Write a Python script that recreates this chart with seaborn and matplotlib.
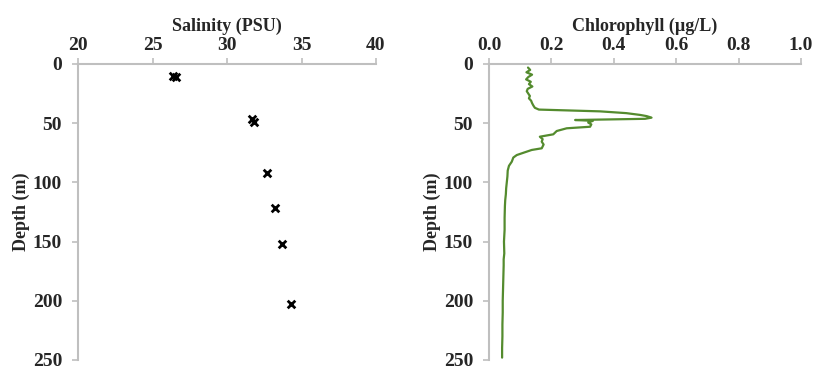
import matplotlib
matplotlib.use("Agg")
import matplotlib.pyplot as plt
import seaborn as sns
import pandas as pd

# Discrete salinity samples (PSU) and their depths (m)
sal_depth = [10.5, 11.0, 46.5, 49.0, 92.0, 122.0, 152.0, 203.0]
salinity = [26.4, 26.6, 31.7, 31.8, 32.7, 33.2, 33.7, 34.3]

# Fluorometer chlorophyll profile (ug/L) against depth (m)
chl_depth = [3, 5, 7, 9, 11, 13, 15, 17, 19, 21, 23, 25, 27, 29, 31, 33, 35,
             37, 38.5, 40, 41.5, 43, 44, 45.3, 46.3, 47.3, 48, 49.5, 51, 53,
             54.3, 56.6, 59.4, 61.4, 63.5, 65.6, 68, 71.2, 72.6, 75, 76.9,
             79, 82.5, 86, 90, 95, 100, 105, 110, 115, 120, 130, 140, 150,
             160, 165, 170, 180, 190, 200, 210, 220, 230, 240, 248]
chlorophyll = [0.125, 0.132, 0.120, 0.138, 0.126, 0.119, 0.134, 0.128, 0.139,
               0.124, 0.121, 0.126, 0.131, 0.128, 0.135, 0.138, 0.142,
               0.147, 0.160, 0.356, 0.440, 0.484, 0.505, 0.521, 0.500, 0.276,
               0.333, 0.318, 0.328, 0.324, 0.249, 0.217, 0.206, 0.163, 0.172,
               0.169, 0.175, 0.169, 0.137, 0.110, 0.089, 0.078, 0.073, 0.064,
               0.060, 0.059, 0.057, 0.055, 0.054, 0.052, 0.051, 0.050, 0.050,
               0.048, 0.049, 0.047, 0.047, 0.046, 0.045, 0.044, 0.044, 0.043,
               0.043, 0.042, 0.042]

sal_df = pd.DataFrame({"Salinity": salinity, "Depth": sal_depth})
chl_df = pd.DataFrame({"Chlorophyll": chlorophyll, "Depth": chl_depth})

sns.set_theme(style="white")
plt.rcParams["font.family"] = ["Liberation Serif", "DejaVu Serif"]
plt.rcParams["font.weight"] = "bold"

fig = plt.figure(figsize=(8.16, 3.70), dpi=100)
ax1 = fig.add_axes([78 / 816, 1 - 360 / 370, 298 / 816, 296 / 370])
ax2 = fig.add_axes([489 / 816, 1 - 360 / 370, 312 / 816, 296 / 370])

sns.scatterplot(data=sal_df, x="Salinity", y="Depth", ax=ax1, marker="x",
                color="black", s=30, linewidth=2.0, zorder=3)
sns.lineplot(data=chl_df, x="Chlorophyll", y="Depth", ax=ax2, sort=False,
             orient="y", color="#548b2e", linewidth=1.6, estimator=None)

spine_col = "#bfbfbf"
for ax, xlim, xticks, fmt, label in [
    (ax1, (20, 40), [20, 25, 30, 35, 40], "{:.0f}", "Salinity (PSU)"),
    (ax2, (0, 1.0), [0, 0.2, 0.4, 0.6, 0.8, 1.0], "{:.1f}", "Chlorophyll (\u00b5g/L)"),
]:
    ax.set_xlim(*xlim)
    ax.set_ylim(250, 0)
    ax.set_xticks(xticks)
    ax.set_xticklabels([fmt.format(t) for t in xticks])
    ax.set_yticks([0, 50, 100, 150, 200, 250])
    ax.xaxis.tick_top()
    ax.xaxis.set_label_position("top")
    ax.set_xlabel(label, fontsize=13, fontweight="bold", labelpad=4)
    ax.set_ylabel("Depth (m)", fontsize=13, fontweight="bold", labelpad=2)
    for side in ["bottom", "right"]:
        ax.spines[side].set_visible(False)
    for side in ["top", "left"]:
        ax.spines[side].set_color(spine_col)
        ax.spines[side].set_linewidth(1.5)
    ax.tick_params(axis="both", which="major", direction="out", length=4.5,
                   width=1.2, color=spine_col, labelsize=14,
                   top=True, bottom=False, left=True, right=False,
                   labeltop=True, labelbottom=False)
    ax.tick_params(axis="y", pad=7)
    ax.tick_params(axis="x", pad=3)
    for lab in ax.get_xticklabels() + ax.get_yticklabels():
        lab.set_fontweight("bold")
    ax.set_facecolor("white")

fig.savefig("out.png", dpi=100, facecolor="white")
